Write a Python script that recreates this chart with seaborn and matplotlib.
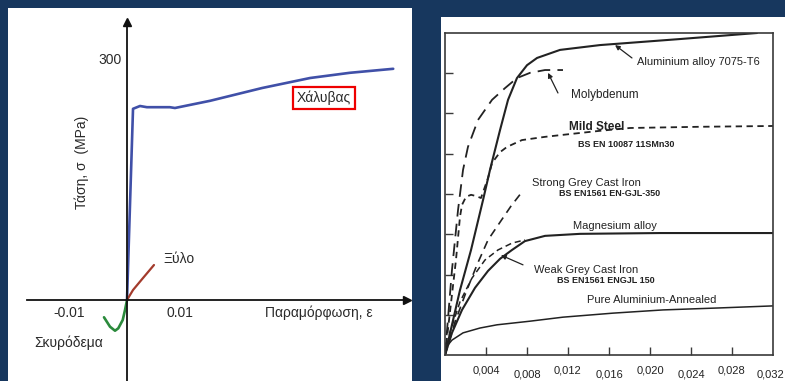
import matplotlib
matplotlib.use("Agg")
import matplotlib.pyplot as plt
from matplotlib.patches import Rectangle
import seaborn as sns

# ---- left diagram: stress (MPa) vs strain for three materials ----
steel_strain = [0, 0.00118, 0.00255, 0.0039, 0.0084, 0.0094, 0.0163, 0.0265, 0.0359, 0.0437, 0.0522]
steel_stress = [0, 239, 242.5, 241, 241, 240, 249, 265, 277.5, 284, 289]
wood_strain = [0, 0.00118, 0.00314, 0.00529]
wood_stress = [0, 12.5, 27.5, 43.75]
concrete_strain = [0, -0.00039, -0.00084, -0.00171, -0.00235, -0.00333, -0.00451]
concrete_stress = [0, -12.5, -25, -35.4, -38.4, -33.4, -21.6]
left_xticks = [-0.01, 0.01]
left_xtick_labels = ["-0.01", "0.01"]
left_yticks = [300]
left_ytick_labels = ["300"]

# ---- right diagram: engineering materials (strain, stress in MPa) ----
al7075_strain = [0, 0.00146, 0.00254, 0.00371, 0.00439, 0.00537, 0.00615, 0.00702, 0.00800,
                 0.00898, 0.01122, 0.01512, 0.02293, 0.03044]
al7075_stress = [0, 161, 261, 385, 460, 559, 634, 688, 720, 738, 758, 770, 785, 800]
moly_strain = [0, 0.00068, 0.00127, 0.00176, 0.00224, 0.00322, 0.00459, 0.00585, 0.00702,
               0.00829, 0.00976, 0.01151]
moly_stress = [0, 211, 360, 460, 517, 584, 634, 663, 688, 701, 708, 708]
mild_strain = [0, 0.00107, 0.00146, 0.00166, 0.00205, 0.00254, 0.00302, 0.00351, 0.00420,
               0.00459, 0.00537, 0.00605, 0.00751, 0.00976, 0.01151, 0.01512, 0.01805,
               0.02488, 0.0320]
mild_stress = [0, 236, 343, 373, 393, 398, 395, 390, 440, 477, 504, 517, 534, 542, 547,
               557, 564, 567, 569]
strong_ci_strain = [0, 0.00098, 0.00205, 0.00312, 0.00420, 0.00537, 0.00644, 0.00751]
strong_ci_stress = [0, 82, 156, 224, 286, 330, 370, 405]
mg_strain = [0, 0.00068, 0.00166, 0.00293, 0.00420, 0.00537, 0.00654, 0.00780, 0.00976,
             0.01317, 0.02098, 0.0320]
mg_stress = [0, 55, 112, 167, 209, 239, 261, 283, 296, 301, 303, 303]
weak_ci_strain = [0, 0.00049, 0.00146, 0.00263, 0.00390, 0.00517, 0.00654, 0.00780]
weak_ci_stress = [0, 57, 132, 191, 236, 261, 278, 286]
pure_al_strain = [0, 0.000195, 0.00068, 0.00176, 0.00341, 0.00507, 0.00829, 0.01151,
                  0.01639, 0.02127, 0.02683, 0.0320]
pure_al_stress = [0, 22, 37, 55, 67, 75, 84, 94, 104, 112, 117, 122]
right_xticks = [0.004, 0.008, 0.012, 0.016, 0.020, 0.024, 0.028, 0.032]
right_xtick_labels = ["0,004", "0,008", "0,012", "0,016", "0,020", "0,024", "0,028", "0,032"]
right_yticks = [100, 200, 300, 400, 500, 600, 700]

sns.set_theme(style="white")
plt.rcParams["font.family"] = ["Liberation Sans", "DejaVu Sans"]

W, H = 785, 381
fig = plt.figure(figsize=(W / 100, H / 100), dpi=100)
fig.patch.set_facecolor("#17375E")


def fbox(x0, y0, x1, y1):
    """Figure-fraction rectangle from pixel edges (top-left origin)."""
    return [x0 / W, 1 - y1 / H, (x1 - x0) / W, (y1 - y0) / H]


# white slide panels
for x0, y0, x1, y1 in [(8, 8, 412, 381), (441, 17, 785, 381)]:
    l, b, w, h = fbox(x0, y0, x1, y1)
    fig.add_artist(Rectangle((l, b), w, h, transform=fig.transFigure,
                             facecolor="white", edgecolor="none", zorder=-1))

# ================= left diagram =================
ax1 = fig.add_axes(fbox(27, 22, 407, 381))
ax1.set_facecolor("none")
ax1.set_xlim(-0.019608, 0.054902)
ax1.set_ylim(-101.25, 347.5)
for s in ["top", "right"]:
    ax1.spines[s].set_visible(False)
for s in ["left", "bottom"]:
    ax1.spines[s].set_position(("data", 0))
    ax1.spines[s].set_color("#111111")
    ax1.spines[s].set_linewidth(1.3)
ax1.set_xticks(left_xticks)
ax1.set_yticks(left_yticks)
ax1.tick_params(axis="x", direction="in", length=6, width=1.2, color="#333333", labelbottom=False)
ax1.tick_params(axis="y", direction="in", length=7, width=1.2, color="#333333", labelleft=False)
ax1.plot(1, 0, marker=">", color="#111111", ms=6, transform=ax1.get_yaxis_transform(), clip_on=False)
ax1.plot(0, 1, marker="^", color="#111111", ms=6, transform=ax1.get_xaxis_transform(), clip_on=False)

sns.lineplot(x=steel_strain, y=steel_stress, sort=False, color="#4050a8", lw=1.9, ax=ax1)
sns.lineplot(x=wood_strain, y=wood_stress, sort=False, color="#a33b2c", lw=1.6, ax=ax1)
sns.lineplot(x=concrete_strain, y=concrete_stress, sort=False, color="#2b8a3c", lw=1.9, ax=ax1)

tk = dict(fontsize=10, color="#2a2a2a")
ax1.text(-0.00098, left_yticks[0], left_ytick_labels[0], ha="right", va="center", **tk)
ax1.text(-0.01137, -16.5, left_xtick_labels[0], ha="center", va="center", **tk)
ax1.text(0.0103, -16.5, left_xtick_labels[1], ha="center", va="center", **tk)
ax1.text(0.02706, -16.5, "Παραμόρφωση, ε", ha="left", va="center", **tk)
ax1.text(-0.00882, 172.5, "Τάση, σ  (MPa)", rotation=90, ha="center", va="center", **tk)
ax1.text(0.00706, 51, "Ξύλο", ha="left", va="center", **tk)
ax1.text(-0.01137, -54, "Σκυρόδεμα", ha="center", va="center", **tk)
ax1.text(0.03863, 252.5, "Χάλυβας", ha="center", va="center", **tk,
         bbox=dict(boxstyle="square,pad=0.3", fc="white", ec="#ee0000", lw=1.6))

# ================= right diagram =================
ax2 = fig.add_axes(fbox(445, 33, 773, 355))
ax2.set_facecolor("none")
ax2.set_xlim(0, 0.032)
ax2.set_ylim(0, 800)
for s in ax2.spines.values():
    s.set_visible(True)
    s.set_color("#3a3a3a")
    s.set_linewidth(1.2)
ax2.set_xticks(right_xticks[:-1])
ax2.set_yticks(right_yticks)
ax2.tick_params(direction="in", length=6, width=1.0, color="#3a3a3a",
                labelbottom=False, labelleft=False, bottom=True, left=True)

ink = "#222222"
curves = [
    (al7075_strain, al7075_stress, None, 1.5),
    (moly_strain, moly_stress, (7, 4), 1.3),
    (mild_strain, mild_stress, (3.5, 2.5), 1.3),
    (strong_ci_strain, strong_ci_stress, (5, 3.5), 1.2),
    (mg_strain, mg_stress, None, 1.5),
    (weak_ci_strain, weak_ci_stress, (4, 2.5), 1.1),
    (pure_al_strain, pure_al_stress, None, 1.1),
]
for xs, ys, dash, lw in curves:
    sns.lineplot(x=xs, y=ys, sort=False, color=ink, lw=lw, ax=ax2)
    if dash is not None:
        ax2.lines[-1].set_dashes(dash)

# staggered strain labels below the frame; the last one is tucked inside the panel edge
for i, (v, lab) in enumerate(zip(right_xticks, right_xtick_labels)):
    dy = -0.047 if i % 2 == 0 else -0.062
    xpos = v if v < 0.03 else v - 0.0002
    ax2.text(xpos, dy, lab, transform=ax2.get_xaxis_transform(), ha="center", va="center",
             fontsize=8, color=ink, clip_on=False)

lab = dict(fontsize=8, color=ink, ha="center", va="center")
sub = dict(fontsize=6.5, color=ink, ha="center", va="center", fontweight="bold")
ax2.text(0.02468, 728, "Aluminium alloy 7075-T6", **lab)
ax2.text(0.01561, 646, "Molybdenum", fontsize=8.5, color=ink, ha="center", va="center")
ax2.text(0.01483, 566, "Mild Steel", fontsize=8.5, fontweight="bold", color=ink,
         ha="center", va="center")
ax2.text(0.01766, 522, "BS EN 10087 11SMn30", **sub)
ax2.text(0.01376, 427, "Strong Grey Cast Iron", **lab)
ax2.text(0.01610, 400, "BS EN1561 EN-GJL-350", **sub)
ax2.text(0.01659, 320, "Magnesium alloy", **lab)
ax2.text(0.01376, 211, "Weak Grey Cast Iron", **lab)
ax2.text(0.01571, 186, "BS EN1561 ENGJL 150", **sub)
ax2.text(0.02020, 137, "Pure Aluminium-Annealed", **lab)

arrow = dict(arrowstyle="-|>", color=ink, lw=0.9, mutation_scale=7, shrinkA=0, shrinkB=0)
ax2.annotate("", xy=(0.01659, 770), xytext=(0.01824, 738), arrowprops=arrow)
ax2.annotate("", xy=(0.01005, 701), xytext=(0.01102, 651), arrowprops=arrow)
ax2.annotate("", xy=(0.00546, 248), xytext=(0.00761, 224), arrowprops=arrow)

fig.savefig("out.png", dpi=100, facecolor=fig.get_facecolor())
